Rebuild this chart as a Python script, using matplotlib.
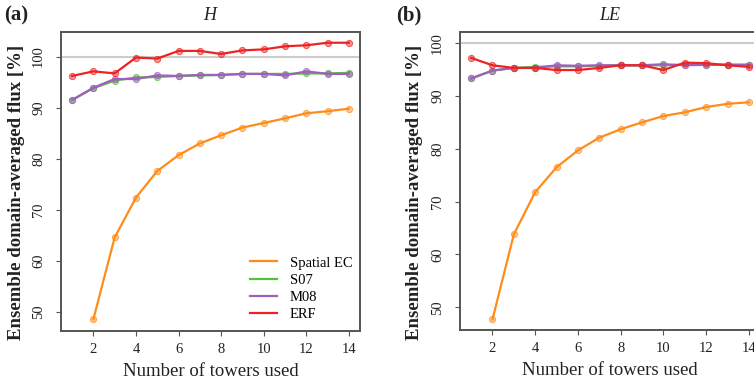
import matplotlib
matplotlib.use("Agg")
import matplotlib.pyplot as plt
from matplotlib.colors import to_rgba
import numpy as np

plt.rcParams['font.family'] = ['Liberation Serif', 'DejaVu Serif']

towers = np.arange(1, 15)

# panel (a) H
h_spatial = [np.nan, 48.6, 64.6, 72.4, 77.6, 80.7, 83.0, 84.6, 86.1, 87.0, 87.9, 88.9, 89.3, 89.8]
h_s07 = [91.5, 93.8, 95.3, 95.9, 96.0, 96.2, 96.3, 96.4, 96.6, 96.6, 96.6, 96.7, 96.7, 96.8]
h_m08 = [91.5, 93.9, 95.6, 95.6, 96.3, 96.2, 96.4, 96.4, 96.6, 96.6, 96.3, 97.1, 96.6, 96.6]
h_erf = [96.2, 97.1, 96.7, 99.8, 99.6, 101.1, 101.1, 100.5, 101.2, 101.4, 102.0, 102.2, 102.7, 102.7]

# panel (b) LE
le_spatial = [np.nan, 47.7, 63.8, 71.8, 76.5, 79.7, 82.1, 83.7, 85.0, 86.2, 86.9, 87.9, 88.5, 88.8]
le_s07 = [93.3, 94.8, 95.3, 95.5, 95.6, 95.6, 95.7, 95.8, 95.8, 95.8, 95.9, 95.9, 95.9, 95.9]
le_m08 = [93.3, 94.8, 95.3, 95.3, 95.8, 95.7, 95.8, 95.8, 95.8, 96.0, 95.8, 95.9, 95.9, 95.9]
le_erf = [97.2, 95.8, 95.3, 95.3, 94.9, 94.9, 95.3, 95.8, 95.8, 94.9, 96.3, 96.2, 95.8, 95.5]

names = ["Spatial EC", "S07", "M08", "ERF"]
colors = ["#ff8c1a", "#55c13a", "#a05fc0", "#ee2222"]

W, H = 754, 379
fig = plt.figure(figsize=(W / 100, H / 100), dpi=100)

ax1 = fig.add_axes([61 / W, (H - 331) / H, 299 / W, 299 / H])
ax2 = fig.add_axes([460 / W, (H - 330) / H, 300 / W, 298 / H])

panels = [
    (ax1, [h_spatial, h_s07, h_m08, h_erf], (46.3, 104.8)),
    (ax2, [le_spatial, le_s07, le_m08, le_erf], (45.7, 102.1)),
]

for ax, series, ylim in panels:
    ax.axhline(100, color="#cccccc", lw=1.5, zorder=1)
    for vals, c, nm in zip(series, colors, names):
        ax.plot(towers, vals, color=c, lw=1.6, marker="o", ms=4.4,
                mfc=to_rgba(c, 0.45), mec=to_rgba(c, 0.7), mew=0.8,
                label=nm, zorder=3)
    ax.set_xlim(0.48, 14.52)
    ax.set_ylim(*ylim)
    ax.set_xticks(range(2, 15, 2))
    ax.set_yticks(range(50, 101, 10))
    for s in ax.spines.values():
        s.set_color("#555555")
        s.set_linewidth(1.4)
    ax.tick_params(colors="#555555", labelcolor="#222222", length=3.5, width=0.8,
                   labelsize=10.5)
    ax.tick_params(axis="x", pad=5)
    ax.tick_params(axis="y", pad=8)
    for lb in ax.get_yticklabels():
        lb.set_rotation(90)
        lb.set_va("center")
    ax.set_xlabel("Number of towers used", fontsize=13.5, color="#222222", labelpad=5)

# legend with lines only
handles = [plt.Line2D([], [], color=c, lw=1.6) for c in colors]
ax1.legend(handles, names, loc="lower left", frameon=False, fontsize=10.5,
           handlelength=1.85, handletextpad=0.9, labelspacing=0.27,
           borderpad=0, borderaxespad=0,
           bbox_to_anchor=(250 / W, 1 - 321 / H), bbox_transform=fig.transFigure)

ylabel = "Ensemble domain-averaged flux [%]"
fig.text(17 / W, 1 - 192 / H, ylabel, rotation=90, ha="center", va="center",
         fontsize=13.5, fontweight="bold", color="#222222")
fig.text(414 / W, 1 - 192 / H, ylabel, rotation=90, ha="center", va="center",
         fontsize=13.5, fontweight="bold", color="#222222")

fig.text(4 / W, 1 - 15 / H, "(a)", ha="left", va="center", fontsize=15,
         fontweight="bold", color="#222222")
fig.text(396 / W, 1 - 15 / H, "(b)", ha="left", va="center", fontsize=15,
         fontweight="bold", color="#222222")
fig.text(210 / W, 1 - 15 / H, "H", ha="center", va="center", fontsize=13,
         style="italic", color="#222222")
fig.text(610 / W, 1 - 15 / H, "LE", ha="center", va="center", fontsize=13,
         style="italic", color="#222222")

fig.savefig("out.png", dpi=100)
